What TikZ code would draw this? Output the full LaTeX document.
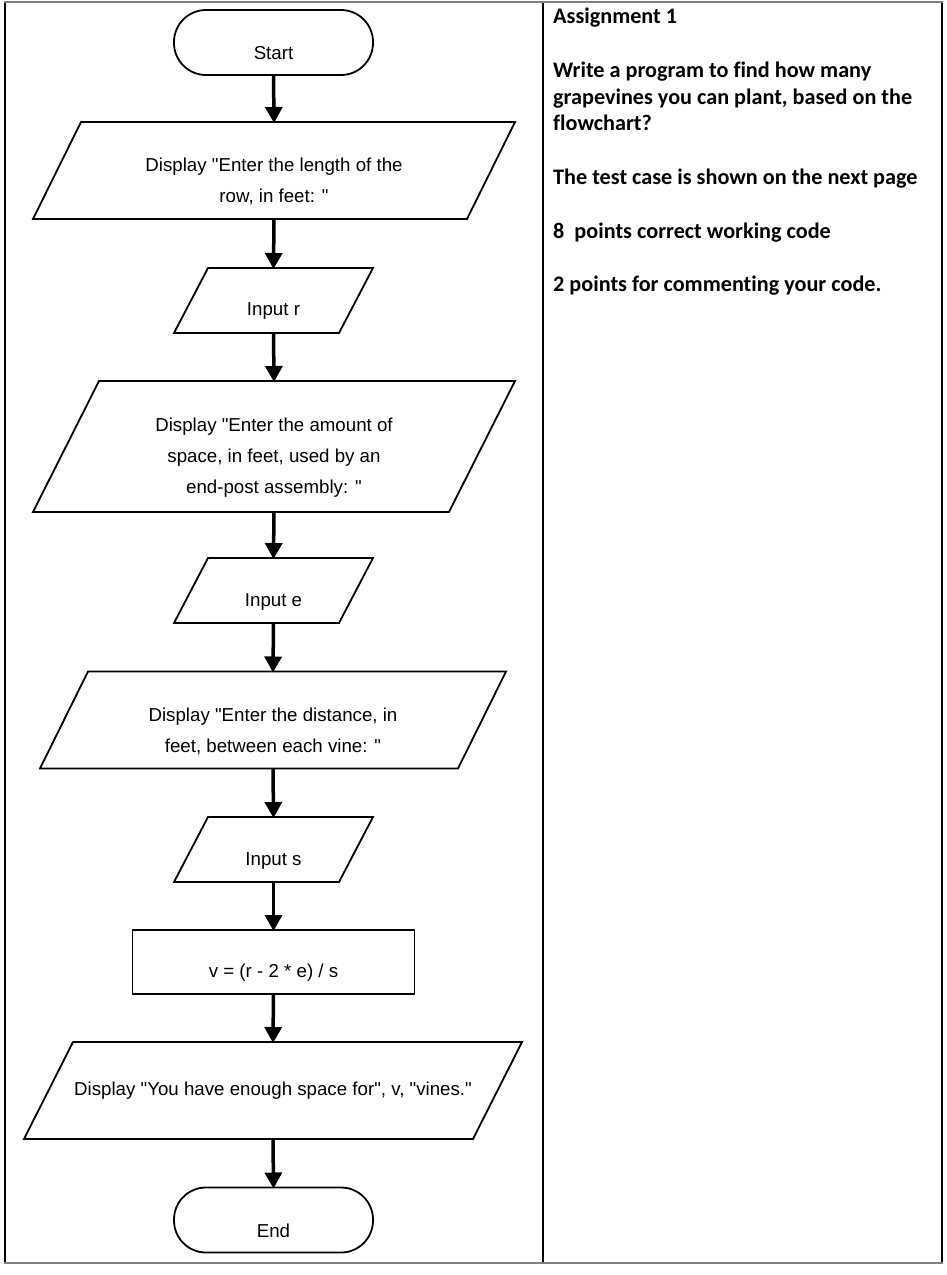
\documentclass[tikz,border=0pt]{standalone}
\usepackage{fontspec}
\setmainfont{Liberation Sans}
\newfontfamily\flowfont{Liberation Sans}[Ligatures=NoCommon]
\newfontfamily\calib{Carlito}[Ligatures=NoCommon]
\usetikzlibrary{arrows.meta}
\newcommand\paradraw[2]{\draw[shp] ([xshift=#2]#1.north west) -- (#1.north east) -- ([xshift=-#2]#1.south east) -- (#1.south west) -- cycle;}
\begin{document}
\begin{tikzpicture}[x=1pt,y=-1pt,
  txt/.style={font=\flowfont\fontsize{18.7}{31}\selectfont, align=center, inner sep=0pt, text=black},
  lbl/.style={label={[txt,yshift=-11pt]center:{#1}}},
  lblc/.style={label={[txt]center:{#1}}},
  box/.style={draw=none, inner sep=0pt, outer sep=0pt},
  shp/.style={draw=black, line width=1.8pt, line join=miter},
  term/.style={draw=black, line width=1.8pt, rounded corners=32pt, inner sep=0pt, outer sep=0pt, minimum width=199pt, minimum height=65pt},
  arr/.style={line width=3.5pt, -{Triangle[width=17pt,length=16pt]}, shorten >=-1pt},
  tbl/.style={line width=1.3pt, black},
  tblh/.style={line width=2.5pt, black!50}
]
\useasboundingbox (0,0) rectangle (947,1275);
\fill[white] (0,0) rectangle (947,1275);
% table
\draw[tbl] (5,2) -- (5,1263);
\draw[tbl] (543,2) -- (543,1263);
\draw[tbl] (942,2) -- (942,1263);
\draw[tblh] (4,2) -- (943,2);
\draw[tblh] (4,1263) -- (943,1263);
% flowchart nodes
\node[term, lbl={Start}] (start) at (273.5,42.5) {};
\node[box, minimum width=482pt, minimum height=97pt, lbl={Display "Enter the length of the\\row, in feet: "}] (p1) at (274,170.5) {};
\paradraw{p1}{48pt}
\node[box, minimum width=199pt, minimum height=65pt, lbl={Input r}] (in1) at (273.5,300.5) {};
\paradraw{in1}{34pt}
\node[box, minimum width=482pt, minimum height=131pt, lbl={Display "Enter the amount of\\space, in feet, used by an\\end-post assembly: "}] (p3) at (274,446.5) {};
\paradraw{p3}{66pt}
\node[box, minimum width=199pt, minimum height=65pt, lbl={Input e}] (in2) at (273.5,590.5) {};
\paradraw{in2}{34pt}
\node[box, minimum width=466pt, minimum height=97pt, lbl={Display "Enter the distance, in\\feet, between each vine: "}] (p5) at (273,720) {};
\paradraw{p5}{48pt}
\node[box, minimum width=199pt, minimum height=65pt, lbl={Input s}] (in3) at (273.5,849.5) {};
\paradraw{in3}{34pt}
\node[box, draw=black, line width=1.8pt, minimum width=282pt, minimum height=64pt, lbl={v = (r - 2 * e) / s}] (calc) at (273.5,962) {};
\node[box, minimum width=498pt, minimum height=97pt, lblc={Display "You have enough space for", v, "vines."}] (p8) at (273,1090.5) {};
\paradraw{p8}{49pt}
\node[term, lbl={End}] (end) at (273.5,1220) {};
% connectors
\draw[arr] (start.south) -- (p1.north);
\draw[arr] (p1.south) -- (in1.north);
\draw[arr] (in1.south) -- (p3.north);
\draw[arr] (p3.south) -- (in2.north);
\draw[arr] (in2.south) -- (p5.north);
\draw[arr] (p5.south) -- (in3.north);
\draw[arr] (in3.south) -- (calc.north);
\draw[arr] (calc.south) -- (p8.north);
\draw[arr] (p8.south) -- (end.north);
% assignment text
\node[anchor=north west, align=left, inner sep=0pt, font=\calib\bfseries\fontsize{22.2}{26.8}\selectfont] (task) at (553,8)
 {Assignment 1\\[26.8pt]
  Write a program to find how many\\
  grapevines you can plant, based on the\\
  flowchart?\\[26.8pt]
  The test case is shown on the next page\\[26.8pt]
  8~ points correct working code\\[26.8pt]
  2 points for commenting your code.};
\end{tikzpicture}
\end{document}
